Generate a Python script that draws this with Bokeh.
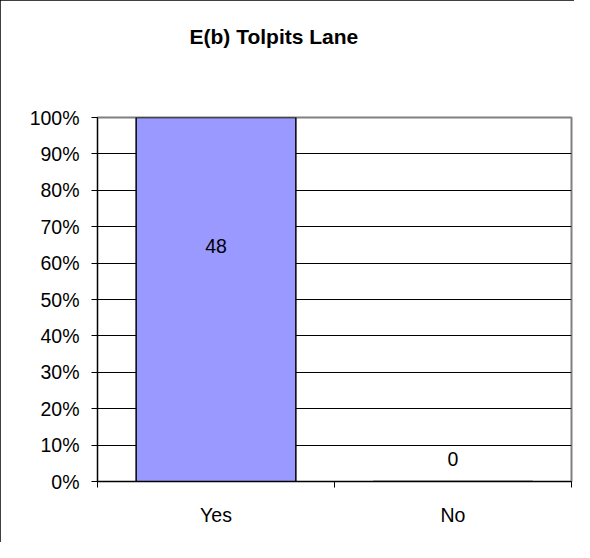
from bokeh.plotting import figure
from bokeh.models import (Range1d, FixedTicker, NumeralTickFormatter, Label, ColumnDataSource, Title)
from bokeh.embed import file_html
from bokeh.resources import INLINE

# ---- data ----
title_text = "E(b) Tolpits Lane"
categories = ["Yes", "No"]
counts = [48, 0]
y_ticks = [0.0, 0.1, 0.2, 0.3, 0.4, 0.5, 0.6, 0.7, 0.8, 0.9, 1.0]

total = sum(counts)
shares = [c / total for c in counts]
xpos = [i + 0.5 for i in range(len(categories))]

FONT = "Liberation Sans"

p = figure(width=574, height=542, output_backend="svg", toolbar_location=None,
           x_range=Range1d(0, len(categories)), y_range=Range1d(0, 1),
           min_border_left=97, min_border_right=3, min_border_top=117,
           min_border_bottom=61)
p.styles = {"outline": "1px solid #000000", "outline-offset": "-1px"}

# spacer between frame and title
p.add_layout(Title(text=" ", text_font_size="47px", text_font=FONT), "above")

p.title.text = title_text
p.title.align = "left"
p.title.offset = 92
p.title.text_font = FONT
p.title.text_font_size = "21px"
p.title.text_font_style = "bold"
p.title.text_color = "black"

p.outline_line_color = "#808080"
p.outline_line_width = 2
p.background_fill_color = "white"
p.border_fill_color = "white"

src = ColumnDataSource(dict(x=xpos, top=shares, cat=categories,
                            lab=[str(c) for c in counts]))
p.vbar(x="x", top="top", width=0.674, source=src,
       fill_color="#9999FF", line_color="black", line_width=1.5)

# value labels
label_y = [0.646 if s > 0.5 else 0.063 for s in shares]
for xx, yy, lab in zip(xpos, label_y, src.data["lab"]):
    p.add_layout(Label(x=xx, y=yy, text=lab, text_align="center",
                       text_baseline="middle", text_font=FONT,
                       text_font_size="19.5px", text_color="black"))

# y axis
p.yaxis.ticker = FixedTicker(ticks=y_ticks)
p.yaxis.formatter = NumeralTickFormatter(format="0%")
p.yaxis.major_tick_out = 6
p.yaxis.major_tick_in = 0
p.yaxis.minor_tick_out = 0
p.yaxis.minor_tick_in = 0
p.yaxis.axis_line_color = "black"
p.yaxis.major_tick_line_color = "black"
p.yaxis.major_label_standoff = 12
p.yaxis.major_label_text_font = FONT
p.yaxis.major_label_text_font_size = "19.5px"
p.yaxis.major_label_text_color = "black"

# x axis
p.xaxis.ticker = FixedTicker(ticks=xpos, minor_ticks=list(range(len(categories) + 1)))
p.xaxis.major_label_overrides = {x: c for x, c in zip(xpos, categories)}
p.xaxis.major_tick_out = 0
p.xaxis.major_tick_in = 0
p.xaxis.minor_tick_out = 6
p.xaxis.minor_tick_in = 0
p.xaxis.minor_tick_line_color = "black"
p.xaxis.axis_line_color = "black"
p.xaxis.major_label_standoff = 16
p.xaxis.major_label_text_font = FONT
p.xaxis.major_label_text_font_size = "19.5px"
p.xaxis.major_label_text_color = "black"

# grids
p.xgrid.visible = False
p.ygrid.ticker = FixedTicker(ticks=y_ticks[1:-1])
p.ygrid.grid_line_color = "black"
p.ygrid.grid_line_width = 1

open("out.html", "w").write(file_html(p, INLINE))
